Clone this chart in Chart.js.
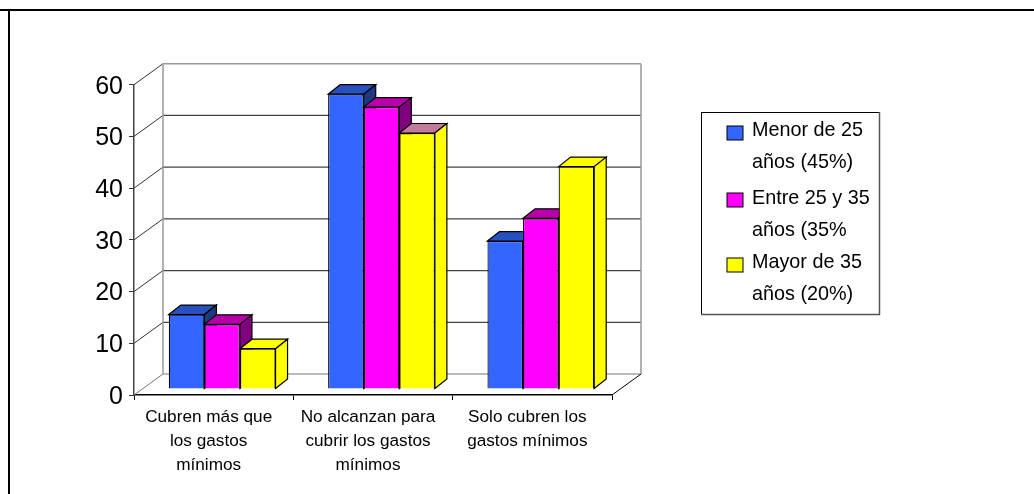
<!DOCTYPE html>
<html>
<head>
<meta charset="utf-8">
<script src="https://cdn.jsdelivr.net/npm/chart.js@4"></script>
<style>
html, body { margin: 0; padding: 0; background: #fff; overflow: hidden; }
#wrap { width: 1034px; height: 494px; }
</style>
</head>
<body>
<div id="wrap"><canvas id="chart"></canvas></div>
<script>
var categories = [
	['Cubren más que', 'los gastos', 'mínimos'],
	['No alcanzan para', 'cubrir los gastos', 'mínimos'],
	['Solo cubren los', 'gastos mínimos']
];
var menor25 = [14.4, 57, 28.6];
var entre25y35 = [12.5, 54.5, 33];
var mayor35 = [7.8, 49.5, 43];
var yTicks = [0, 10, 20, 30, 40, 50, 60];
var legendMenor = ['Menor de 25', 'años (45%)'];
var legendEntre = ['Entre 25 y 35', 'años (35%'];
var legendMayor = ['Mayor de 35', 'años (20%)'];

// depth of the box and of the bars inside it, in px
var wallDx = 29, wallDy = -21;
var barOffX = 8.5, barOffY = -6;
var barDx = 12, barDy = -9.5;
var font = '"Liberation Sans", Arial, sans-serif';

function line(ctx, x1, y1, x2, y2, color, width){
	ctx.strokeStyle = color;
	ctx.lineWidth = width;
	ctx.beginPath();
	ctx.moveTo(x1, y1);
	ctx.lineTo(x2, y2);
	ctx.stroke();
}

function face(ctx, pts, fill){
	ctx.fillStyle = fill;
	ctx.strokeStyle = '#000';
	ctx.lineWidth = 1.2;
	ctx.beginPath();
	ctx.moveTo(pts[0][0], pts[0][1]);
	for(var i = 1; i < pts.length; i++){
		ctx.lineTo(pts[i][0], pts[i][1]);
	}
	ctx.closePath();
	ctx.fill();
	ctx.stroke();
}

var box3d = {
	id: 'box3d',
	afterDatasetsUpdate: function(chart){
		var xScale = chart.scales.x;
		chart.getSortedVisibleDatasetMetas().forEach(function(meta){
			meta.data.forEach(function(bar, i){
				// order reverses the slots in a group so the left bar paints first, put them back
				var center = xScale.getPixelForValue(i);
				bar.x = 2 * center - bar.x;
				// bars sit in the middle of the box depth, not on the front edge
				bar.x += barOffX;
				bar.y += barOffY;
				bar.base += barOffY;
			});
		});
	},
	beforeDatasetsDraw: function(chart){
		var ctx = chart.ctx;
		var y = chart.scales.y;
		var a = chart.chartArea;
		ctx.save();
		// back wall grid and the lines running over the side wall
		yTicks.forEach(function(v){
			var py = y.getPixelForValue(v);
			if(v > 0 && v < 60){
				line(ctx, a.left + wallDx, py + wallDy, a.right + wallDx, py + wallDy, '#444', 1.2);
			}
			line(ctx, a.left, py, a.left + wallDx, py + wallDy, v == 0 ? '#777' : '#333', 1);
		});
		var top = y.getPixelForValue(60) + wallDy;
		var bottom = y.getPixelForValue(0) + wallDy;
		line(ctx, a.left + wallDx, top, a.right + wallDx, top, '#999', 1.5);
		line(ctx, a.left + wallDx, bottom, a.right + wallDx, bottom, '#777', 1.2);
		line(ctx, a.left + wallDx, top, a.left + wallDx, bottom, '#999', 1.5);
		line(ctx, a.right + wallDx, top, a.right + wallDx, bottom, '#999', 1.5);
		line(ctx, a.right, a.bottom, a.right + wallDx, bottom, '#000', 1);
		ctx.restore();
	},
	beforeDatasetDraw: function(chart, args){
		var ctx = chart.ctx;
		var ds = chart.data.datasets[args.index];
		ctx.save();
		args.meta.data.forEach(function(bar, i){
			var l = bar.x - bar.width / 2, r = bar.x + bar.width / 2;
			face(ctx, [[l, bar.y], [l + barDx, bar.y + barDy], [r + barDx, bar.y + barDy], [r, bar.y]], ds.topColors[i]);
			face(ctx, [[r, bar.y], [r + barDx, bar.y + barDy], [r + barDx, bar.base + barDy], [r, bar.base]], ds.sideColor);
		});
		ctx.restore();
	},
	afterDraw: function(chart){
		var ctx = chart.ctx;
		ctx.save();
		// page frame, only top and left are inside the picture
		line(ctx, 0, 10, 1034, 10, '#000', 2);
		line(ctx, 9, 10, 9, 494, '#000', 2);
		// legend
		ctx.fillStyle = '#fff';
		ctx.fillRect(701.5, 112.5, 178, 202);
		line(ctx, 701, 112.5, 880, 112.5, '#000', 1);
		line(ctx, 701.5, 112, 701.5, 315, '#000', 1);
		line(ctx, 879.5, 112, 879.5, 315, '#555', 1.5);
		line(ctx, 701, 314.5, 880, 314.5, '#555', 1.5);
		var rows = [126, 193, 258];
		var textY = [131, 163, 199, 231, 263, 295];
		ctx.font = '19.8px ' + font;
		ctx.textBaseline = 'middle';
		ctx.textAlign = 'left';
		chart.data.datasets.forEach(function(ds, i){
			ctx.fillStyle = ds.backgroundColor;
			ctx.strokeStyle = '#000';
			ctx.lineWidth = 1;
			ctx.fillRect(727, rows[i], 16, 14);
			ctx.strokeRect(727, rows[i], 16, 14);
			ctx.fillStyle = '#000';
			ctx.fillText(ds.legendLines[0], 752, textY[i * 2]);
			ctx.fillText(ds.legendLines[1], 752, textY[i * 2 + 1]);
		});
		ctx.restore();
	}
};

var chartdata = {
	labels: categories,
	datasets: [
		{
			label: legendMenor.join(' '),
			legendLines: legendMenor,
			data: menor25,
			order: 3,
			backgroundColor: '#3366ff',
			topColors: ['#2850c0', '#2850c0', '#2850c0'],
			sideColor: '#1c3a80'
		},
		{
			label: legendEntre.join(' '),
			legendLines: legendEntre,
			data: entre25y35,
			order: 2,
			backgroundColor: '#ff00ff',
			topColors: ['#b800a8', '#b800a8', '#b800a8'],
			sideColor: '#800080'
		},
		{
			label: legendMayor.join(' '),
			legendLines: legendMayor,
			data: mayor35,
			order: 1,
			backgroundColor: '#ffff00',
			topColors: ['#ffff00', '#c47a9a', '#ffff00'],
			sideColor: '#ffff00'
		}
	]
};

var ctx = document.getElementById('chart').getContext('2d');
var barGraph = new Chart(ctx, {
	type: 'bar',
	data: chartdata,
	plugins: [box3d],
	options: {
		responsive: true,
		maintainAspectRatio: false,
		animation: false,
		events: [],
		layout: { padding: { left: 0, top: 84.7, right: 422, bottom: 0 } },
		plugins: { legend: { display: false }, tooltip: { enabled: false } },
		datasets: {
			bar: {
				categoryPercentage: 0.67,
				barPercentage: 1,
				borderColor: '#000',
				borderWidth: 1.2
			}
		},
		scales: {
			x: {
				afterFit: function(scale){ scale.height = 99; },
				grid: { drawOnChartArea: false, color: '#000', tickLength: 5 },
				border: { color: '#000', width: 1.5 },
				ticks: {
					color: '#000',
					padding: 5,
					labelOffset: -5,
					maxRotation: 0,
					autoSkip: false,
					font: { family: font, size: 17.2, lineHeight: 24 / 17.2 }
				}
			},
			y: {
				min: 0,
				max: 60,
				afterFit: function(scale){ scale.width = 134; },
				afterBuildTicks: function(scale){
					scale.ticks = yTicks.map(function(v){ return { value: v }; });
				},
				grid: { drawOnChartArea: false, color: '#333', tickLength: 5 },
				border: { color: '#444', width: 1.5 },
				ticks: {
					color: '#000',
					padding: 6,
					labelOffset: 2,
					font: { family: font, size: 25 }
				}
			}
		}
	}
});
</script>
</body>
</html>
